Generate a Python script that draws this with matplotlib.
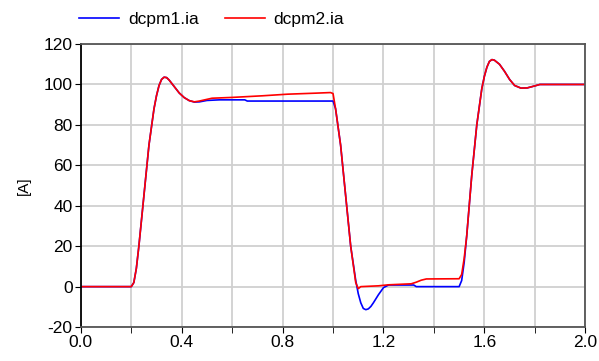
import numpy as np
from matplotlib import pyplot as plt

# time / current samples
t1 = [0.0, 0.2, 0.21, 0.22, 0.23, 0.25, 0.27, 0.29, 0.30, 0.31, 0.32, 0.33, 0.34, 0.35,
      0.37, 0.39, 0.41, 0.43, 0.45, 0.47, 0.5, 0.55, 0.65, 0.66, 1.0, 1.01, 1.03, 1.05,
      1.07, 1.09, 1.1, 1.11, 1.12, 1.13, 1.14, 1.15, 1.16, 1.18, 1.2, 1.22, 1.32, 1.33,
      1.5, 1.51, 1.52, 1.53, 1.55, 1.57, 1.59, 1.60, 1.61, 1.62, 1.63, 1.64, 1.66, 1.68,
      1.70, 1.72, 1.745, 1.77, 1.80, 1.82, 2.0]
ia1 = [0, 0, 2, 9, 20, 45, 70, 88, 94.5, 99.5, 102.5, 103.6, 103.4, 102.2,
       99, 95.8, 93.5, 92, 91.3, 91.4, 92.1, 92.4, 92.4, 91.8, 91.8, 88, 70, 45,
       20, 3, -3.5, -8, -10.8, -11.4, -11, -9.8, -8, -4, -0.5, 0.8, 0.8, 0,
       0, 3, 12, 25, 55, 80, 98, 104, 108.5, 111.4, 112.3, 112, 110, 106.5,
       102.5, 99.5, 98.2, 98.3, 99.3, 100, 100]

t2 = [0.0, 0.2, 0.21, 0.22, 0.23, 0.25, 0.27, 0.29, 0.30, 0.31, 0.32, 0.33, 0.34, 0.35,
      0.37, 0.39, 0.41, 0.43, 0.45, 0.47, 0.52, 0.6, 0.72, 0.82, 0.93, 0.99, 1.0, 1.01,
      1.03, 1.05, 1.07, 1.09, 1.1, 1.11, 1.18, 1.22, 1.31, 1.33, 1.35, 1.37, 1.5, 1.51,
      1.52, 1.53, 1.55, 1.57, 1.59, 1.60, 1.61, 1.62, 1.63, 1.64, 1.66, 1.68, 1.70, 1.72,
      1.745, 1.77, 1.80, 1.82, 2.0]
ia2 = [0, 0, 2, 9, 20, 45, 70, 88, 94.5, 99.5, 102.5, 103.6, 103.4, 102.2,
       99, 95.8, 93.5, 92, 91.4, 91.8, 93.2, 93.6, 94.4, 95.2, 95.7, 96, 95.5, 88,
       70, 45, 20, 2, -1, 0, 0.4, 0.9, 1.4, 2.2, 3.2, 3.8, 3.9, 6,
       14, 25, 55, 80, 98, 104, 108.5, 111.4, 112.3, 112, 110, 106.5, 102.5, 99.5,
       98.2, 98.3, 99.3, 100, 100]

xticks = [0.0, 0.4, 0.8, 1.2, 1.6, 2.0]
yticks = [-20, 0, 20, 40, 60, 80, 100, 120]

plt.rcParams['font.family'] = ['Arial', 'Liberation Sans', 'DejaVu Sans']
plt.rcParams['axes.unicode_minus'] = False
fig = plt.figure(figsize=(5.99, 3.61), dpi=100)
ax = fig.add_axes([0.135, 0.094, 0.842, 0.784])

ax.plot(t1, ia1, color='#0000ff', lw=1.2, label='dcpm1.ia')
ax.plot(t2, ia2, color='#ff0000', lw=1.2, label='dcpm2.ia')

ax.set_xlim(0, 2.0)
ax.set_ylim(-20, 120)
ax.set_xticks(xticks)
ax.set_xticklabels(['%.1f' % v for v in xticks])
ax.set_xticks(np.arange(0, 2.01, 0.2), minor=True)
ax.set_yticks(yticks)
ax.grid(True, which='both', color='#d0d0d0', lw=1.3)
ax.set_axisbelow(True)
ax.tick_params(labelsize=12.5, direction='out', length=4, colors='black', pad=2)
ax.tick_params(which='minor', length=4)
for s in ['top', 'right', 'bottom']:
    ax.spines[s].set_color('#555555')
    ax.spines[s].set_linewidth(1.3)
ax.spines['left'].set_linewidth(1.3)
ax.set_ylabel('[A]', fontsize=11)
ax.yaxis.set_label_coords(-0.1, 0.5)

ax.legend(loc='lower left', bbox_to_anchor=(-0.02, 1.03), ncol=2, frameon=False,
          fontsize=12.5, handlelength=2.3, handletextpad=0.5, columnspacing=1.5,
          borderaxespad=0.1)

fig.savefig('out.png')
